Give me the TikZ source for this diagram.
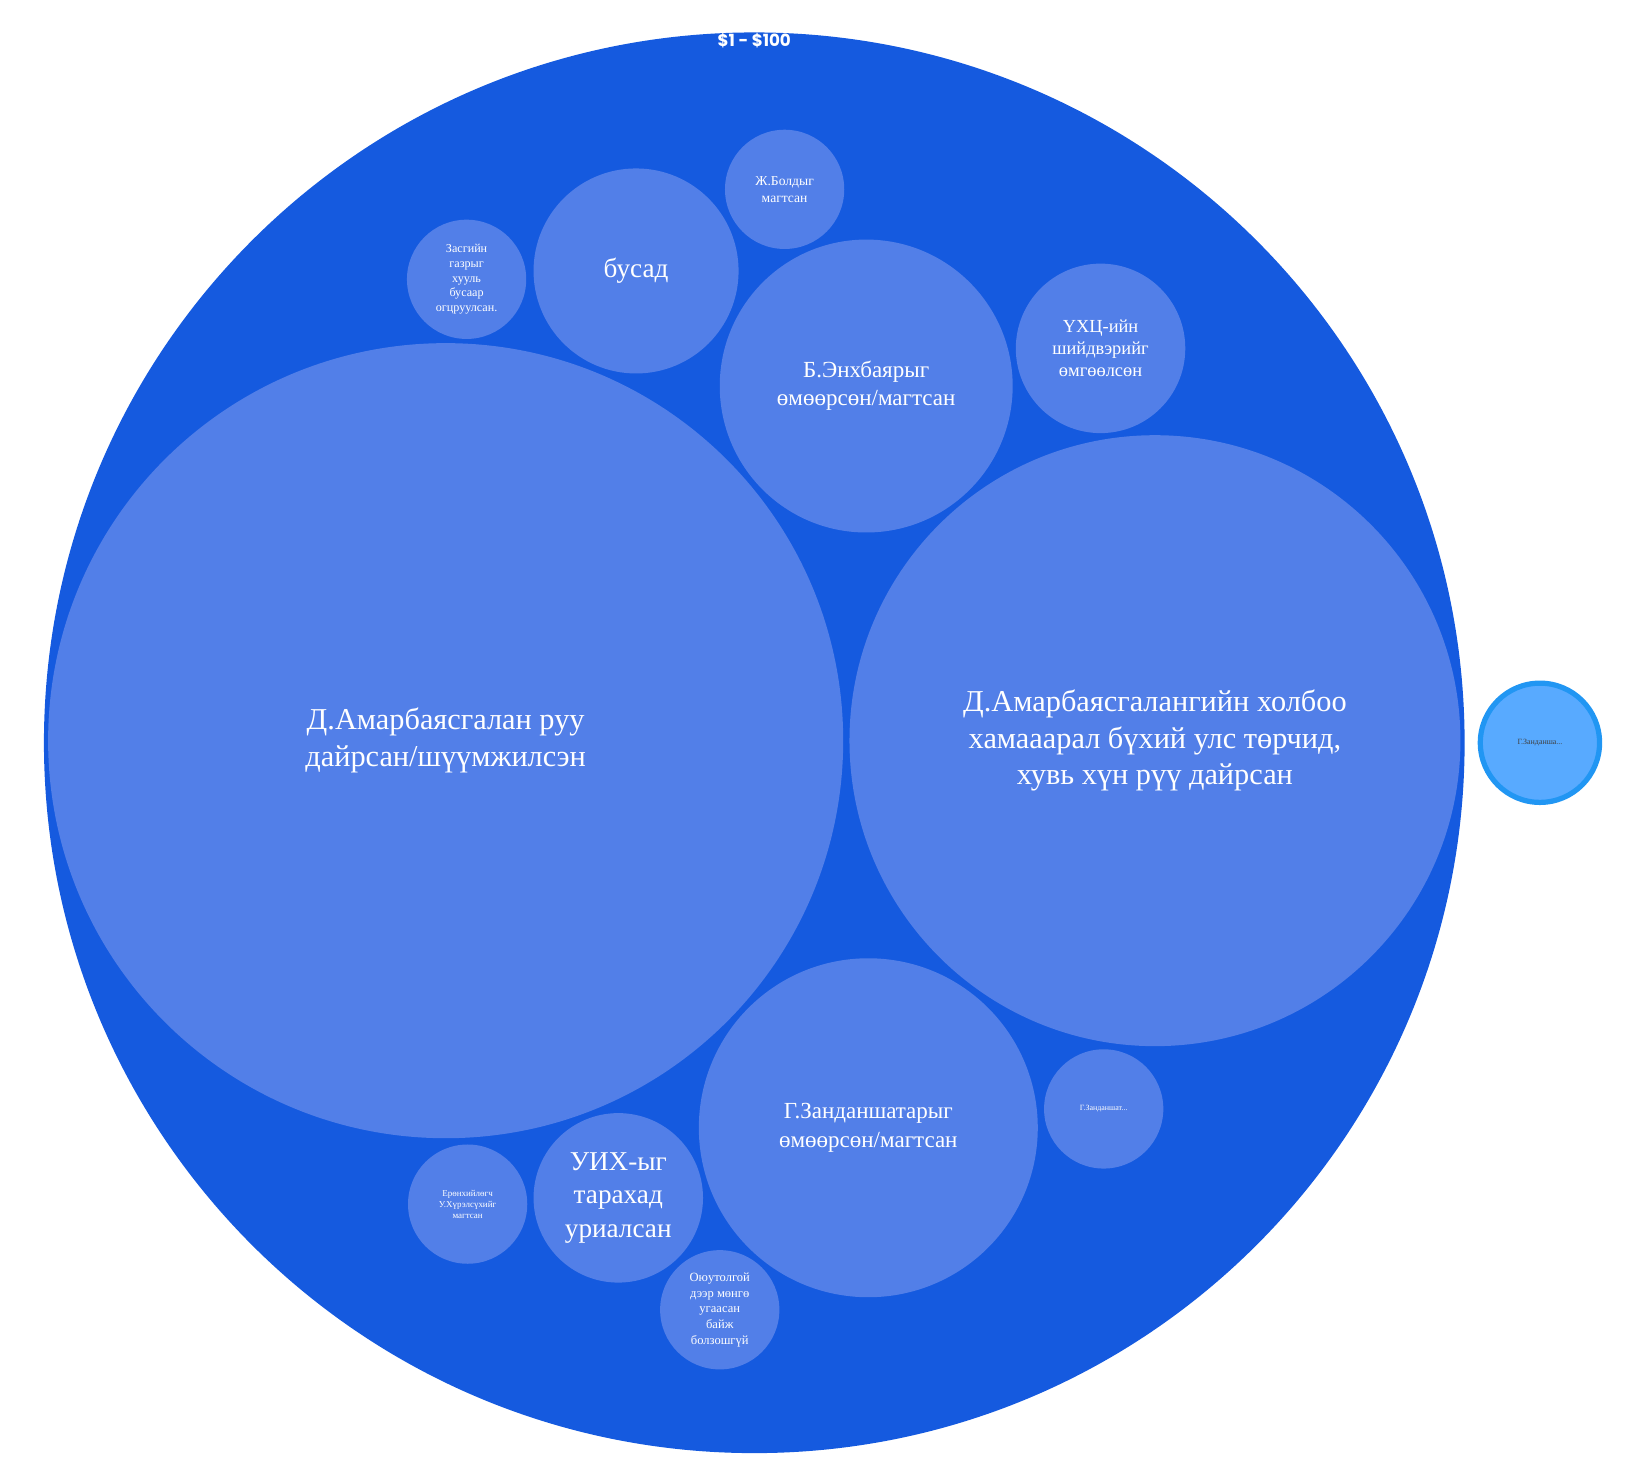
\documentclass[tikz,border=0pt]{standalone}
\usepackage{fontspec}
\setmainfont{Liberation Serif}
\newfontfamily\pop{Poppins}
\definecolor{outerb}{HTML}{155ADF}
\definecolor{innerb}{HTML}{527FE8}
\definecolor{lfill}{HTML}{58AAFF}
\definecolor{lborder}{HTML}{2196F3}
\begin{document}
\begin{tikzpicture}[x=0.5pt,y=-0.5pt,
 bub/.style={circle,fill=innerb,inner sep=0pt,text=white,align=center,minimum size={#1*0.5pt}},
 fs/.style 2 args={font=\fontsize{#1}{#2}\selectfont}]
\useasboundingbox (0,0) rectangle (1560,1407);
\node[circle,fill=outerb,minimum size=679pt,inner sep=0pt] (root) at (721,710) {};
\node[font=\pop\bfseries\fontsize{8}{9}\selectfont,text=white] (rl) at (721,39) {\$1 - \$100};
\node[bub=760,fs={14.5}{17.5}] (a) at (426,708) {Д.Амарбаясгалан руу\\дайрсан/шүүмжилсэн};
\node[bub=584,fs={14.5}{17.5}] (b) at (1104,708) {Д.Амарбаясгалангийн холбоо\\хамааарал бүхий улс төрчид,\\хувь хүн рүү дайрсан};
\node[bub=280,fs={11}{13.5}] (c) at (828,369) {Б.Энхбаярыг\\өмөөрсөн/магтсан};
\node[bub=324,fs={11}{13.5}] (d) at (830,1078) {Г.Занданшатарыг\\өмөөрсөн/магтсан};
\node[bub=196,fs={13}{16}] (e) at (608,259) {бусад};
\node[bub=114,fs={6.5}{8}] (f) at (750,181) {Ж.Болдыг\\магтсан};
\node[bub=114,fs={5.8}{7}] (g) at (446,267) {Засгийн\\газрыг\\хууль\\бусаар\\огцруулсан.};
\node[bub=162,fs={8.8}{10.5}] (h) at (1052,333) {ҮХЦ-ийн\\шийдвэрийг\\өмгөөлсөн};
\node[bub=114,fs={3.8}{4.5}] (i) at (1055,1060) {Г.Занданшат...};
\node[bub=114,fs={4.3}{5.2}] (j) at (447,1151) {Ерөнхийлөгч\\У.Хүрэлсүхийг\\магтсан};
\node[bub=162,fs={13}{16}] (k) at (591,1145) {УИХ-ыг\\тарахад\\уриалсан};
\node[bub=114,fs={6}{7.5}] (l) at (688,1252) {Оюутолгой\\дээр мөнгө\\угаасан\\байж\\болзошгүй};
\node[circle,fill=lfill,draw=lborder,line width=2.5pt,minimum size=57pt,inner sep=0pt,text=black!75,font=\fontsize{3.8}{4.5}\selectfont] (m) at (1472,710) {Г.Занданша...};
\end{tikzpicture}
\end{document}
